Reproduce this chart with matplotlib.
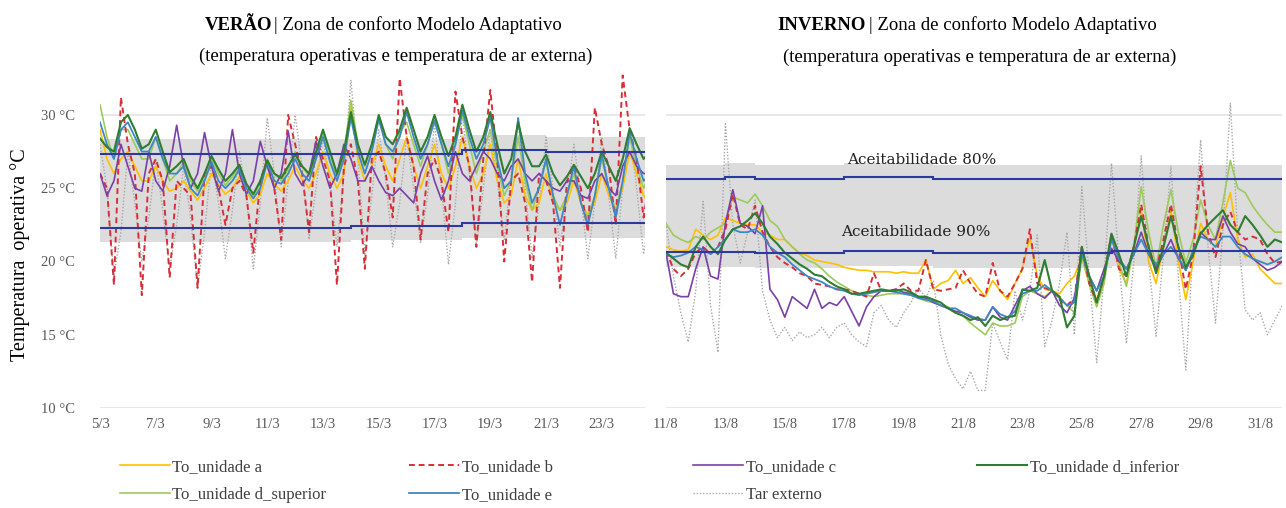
import numpy as np
import matplotlib.pyplot as plt

SERIF = "Liberation Serif"

# ---- dados: valores a cada 6 h (0h, 6h, 12h, 18h), um bloco de 4 por dia ----
verao_ticks = ["5/3", "7/3", "9/3", "11/3", "13/3", "15/3", "17/3", "19/3", "21/3", "23/3"]
inverno_ticks = ["11/8", "13/8", "15/8", "17/8", "19/8", "21/8", "23/8", "25/8", "27/8", "29/8", "31/8"]

verao_a = [
    29.0, 27.0, 26.0, 27.0, 27.5, 26.5, 25.5, 25.5, 26.5, 25.5, 24.8, 25.0, 25.5, 24.8, 24.2, 25.0,
    26.0, 25.2, 24.6, 25.0, 25.8, 24.8, 24.0, 24.6, 26.0, 25.3, 24.8, 25.5, 26.5, 25.6, 25.0, 26.0,
    27.5, 26.0, 25.0, 26.0, 30.8, 27.0, 25.5, 26.5, 28.0, 26.5, 25.5, 27.0, 28.5, 26.5, 25.0, 26.5,
    28.0, 26.0, 25.0, 26.5, 28.5, 26.5, 25.0, 26.0, 28.0, 25.5, 24.0, 24.5, 27.0, 24.5, 23.5, 24.0,
    26.0, 24.0, 23.5, 24.0, 25.5, 24.0, 23.2, 24.0, 26.0, 24.5, 23.5, 25.0, 27.5, 26.0, 24.5, 24.0,
]
verao_b = [
    26.0, 25.0, 18.4, 31.2, 28.0, 26.0, 17.7, 26.0, 27.0, 25.5, 18.9, 25.5, 25.0, 24.5, 18.2, 26.0,
    26.5, 25.0, 22.5, 25.0, 25.5, 24.5, 20.6, 25.5, 27.0, 25.0, 21.5, 30.0, 28.0, 26.0, 22.0, 28.5,
    27.0, 25.5, 18.4, 26.5, 28.0, 25.5, 19.5, 27.0, 27.5, 26.0, 23.0, 32.5, 28.5, 26.5, 21.5, 26.0,
    27.0, 25.5, 22.0, 31.6, 28.5, 26.5, 21.0, 27.0, 31.7, 27.0, 20.0, 25.5, 26.0, 24.0, 18.6, 26.0,
    25.5, 24.0, 18.2, 25.5, 26.5, 25.0, 22.0, 30.5, 28.0, 26.5, 22.5, 32.7, 29.0, 27.0, 23.0, 26.0,
]
verao_c = [
    26.0, 24.5, 25.5, 28.0, 26.5, 25.0, 24.8, 27.5, 25.5, 24.8, 26.5, 29.3, 26.5, 25.0, 26.0, 28.8,
    26.5, 24.8, 26.0, 29.0, 26.0, 24.6, 25.5, 28.2, 26.5, 25.0, 26.0, 28.9, 26.0, 25.2, 26.0, 28.2,
    26.5, 25.0, 26.0, 28.0, 27.0, 25.5, 25.5, 26.5, 25.5, 24.7, 24.5, 25.0, 24.5, 24.0, 26.0, 27.2,
    25.5, 24.2, 25.5, 27.5, 26.0, 25.5, 26.5, 27.5, 27.0, 26.0, 25.5, 26.5, 27.0, 26.0, 25.5, 26.0,
    25.5, 25.0, 24.8, 25.5, 25.5, 24.5, 24.3, 25.5, 26.0, 25.0, 24.5, 26.5, 27.5, 26.5, 26.0, 26.0,
]
verao_d_inf = [
    28.4, 27.8, 27.5, 29.5, 30.0, 29.0, 27.7, 28.0, 29.0, 27.5, 26.1, 26.5, 27.0, 25.8, 25.0, 26.0,
    27.2, 26.3, 25.5, 26.0, 26.6, 25.3, 24.6, 25.5, 26.9, 26.0, 25.7, 26.5, 27.3, 26.5, 26.0, 27.5,
    29.0, 27.5, 26.0, 27.5, 30.2, 28.0, 26.6, 28.0, 30.0, 28.5, 28.0, 29.0, 30.5, 29.0, 27.5, 28.5,
    30.0, 28.5, 27.2, 28.5, 30.7, 29.0, 27.5, 28.5, 30.2, 28.0, 26.0, 27.0, 29.5, 27.5, 26.5, 26.5,
    27.3, 26.0, 25.2, 25.8, 26.6, 25.8, 25.0, 26.0, 27.5, 26.5, 25.5, 27.0, 29.1, 28.0, 27.0, 27.5,
]
verao_d_sup = [
    30.7, 28.5, 27.0, 29.0, 29.0, 28.0, 27.0, 27.0, 28.5, 27.0, 25.5, 26.0, 26.8, 25.5, 24.8, 25.8,
    27.0, 26.0, 25.2, 25.8, 26.5, 25.2, 24.5, 25.3, 27.0, 26.0, 25.5, 26.3, 27.5, 26.5, 25.8, 27.2,
    28.8, 27.0, 25.8, 27.3, 31.0, 28.0, 26.5, 28.0, 29.8, 28.0, 27.0, 28.8, 29.5, 28.0, 26.5, 28.0,
    29.8, 28.0, 26.0, 28.0, 30.0, 28.0, 26.0, 27.5, 29.0, 26.5, 24.5, 25.5, 28.5, 25.5, 23.5, 25.0,
    26.8, 24.5, 23.5, 24.5, 26.0, 24.0, 23.0, 24.5, 27.0, 25.0, 23.5, 25.5, 28.5, 26.5, 25.0, 26.0,
]
verao_e = [
    29.5, 28.0, 27.0, 29.0, 29.5, 28.5, 27.5, 27.5, 28.5, 27.0, 26.0, 26.0, 26.5, 25.0, 24.5, 25.5,
    26.8, 25.5, 25.0, 25.5, 26.3, 25.0, 24.3, 25.0, 26.8, 25.5, 25.3, 26.0, 27.0, 26.0, 25.5, 27.0,
    28.5, 26.8, 25.5, 27.0, 29.8, 27.5, 26.0, 27.5, 29.7, 28.0, 27.5, 28.5, 30.2, 28.5, 27.0, 28.0,
    29.6, 28.0, 26.5, 28.0, 30.3, 28.5, 27.0, 28.0, 29.8, 27.0, 25.0, 25.5, 29.8, 26.0, 24.0, 25.0,
    27.0, 24.5, 22.5, 24.5, 26.5, 24.0, 22.5, 24.5, 27.3, 25.0, 23.0, 25.5, 28.8, 27.0, 25.5, 26.0,
]
verao_tar = [
    28.0, 25.0, 19.0, 22.0, 27.5, 24.0, 20.0, 23.0, 27.0, 23.5, 19.5, 22.5, 26.5, 23.0, 18.2, 22.0,
    27.0, 24.0, 20.2, 23.5, 27.5, 24.5, 19.5, 24.0, 29.8, 26.0, 21.0, 25.5, 30.0, 26.5, 21.5, 25.0,
    28.5, 25.5, 21.0, 26.0, 32.4, 27.0, 20.5, 24.5, 29.0, 25.5, 21.0, 24.0, 28.5, 25.0, 21.3, 24.5,
    29.5, 25.0, 19.8, 24.0, 30.0, 26.0, 21.0, 25.0, 29.0, 25.5, 21.5, 26.0, 29.5, 25.0, 20.2, 24.0,
    28.5, 25.0, 21.0, 24.5, 28.0, 24.5, 20.2, 24.0, 28.5, 24.5, 20.2, 25.0, 29.0, 25.0, 20.5, 23.5,
]
# limites de 90% de aceitabilidade (valor diario)
verao_lim90_sup = [27.35] * 13 + [27.6] * 3 + [27.5] * 4
verao_lim90_inf = [22.3] * 9 + [22.45] * 4 + [22.6] * 7

inverno_a = [
    21.0, 20.8, 20.7, 20.8, 22.2, 21.8, 21.5, 21.8, 23.0, 22.8, 22.6, 22.5, 22.5, 22.0, 21.8, 21.5,
    21.5, 21.0, 20.6, 20.4, 20.1, 20.0, 19.9, 19.8, 19.6, 19.5, 19.4, 19.4, 19.3, 19.3, 19.3, 19.2,
    19.3, 19.2, 19.2, 20.1, 18.1, 18.5, 18.7, 19.4, 18.5, 18.9, 18.2, 17.6, 18.7, 18.0, 17.4, 18.5,
    19.5, 21.7, 19.0, 18.1, 18.0, 17.8, 18.5, 19.0, 20.3, 18.5, 17.4, 19.0, 21.7, 19.5, 18.5, 21.0,
    23.5, 20.0, 18.5, 21.0, 23.5, 20.0, 17.4, 20.0, 22.6, 21.5, 21.0, 23.0, 24.7, 21.5, 20.3, 20.5,
    19.5, 19.0, 18.5, 18.5,
]
inverno_b = [
    20.7, 19.5, 19.0, 19.5, 20.6, 21.0, 20.5, 21.0, 22.2, 24.6, 22.5, 22.2, 23.8, 22.0, 21.0, 20.3,
    19.9, 19.6, 19.2, 19.0, 18.5, 18.4, 18.3, 18.1, 18.1, 18.0, 17.8, 17.6, 19.2, 18.0, 18.0, 18.1,
    18.5, 18.0, 18.0, 20.1, 18.1, 18.0, 18.1, 18.2, 19.4, 18.5, 17.8, 17.6, 19.9, 18.0, 17.6, 18.5,
    19.5, 22.2, 18.5, 18.2, 18.0, 17.4, 17.0, 17.5, 21.0, 18.5, 17.2, 19.0, 21.9, 19.5, 19.0, 21.0,
    23.9, 21.0, 19.4, 21.5, 23.9, 21.0, 18.1, 20.5, 26.5, 22.0, 20.3, 22.5, 23.4, 22.0, 21.5, 21.7,
    21.5, 20.5, 19.9, 20.0,
]
inverno_c = [
    20.6, 17.8, 17.6, 17.6, 19.5, 21.0, 19.0, 18.8, 22.6, 24.9, 22.6, 22.4, 21.9, 23.8, 18.1, 17.4,
    16.2, 17.6, 17.2, 16.8, 18.1, 16.8, 17.2, 17.0, 17.6, 16.6, 15.6, 16.9, 17.6, 18.0, 18.0, 18.1,
    17.9, 17.8, 17.6, 17.5, 17.2, 17.0, 16.8, 16.6, 16.5, 16.2, 16.0, 16.0, 16.9, 16.2, 16.0, 17.0,
    18.0, 18.3, 17.8, 17.5, 18.0, 17.0, 16.5, 17.5, 20.8, 19.0, 18.0, 19.5, 20.9, 20.0, 19.5, 20.5,
    22.0, 20.5, 19.5, 20.5, 21.5, 20.2, 19.4, 20.5, 22.0, 21.5, 21.5, 23.1, 22.0, 21.2, 21.0, 20.2,
    19.8, 19.4, 19.6, 20.0,
]
inverno_d_inf = [
    20.6, 20.2, 19.8, 19.6, 21.0, 21.7, 21.0, 20.5, 21.5, 22.2, 22.4, 22.8, 23.3, 22.6, 21.7, 21.2,
    20.6, 20.2, 19.8, 19.5, 19.1, 19.0, 18.6, 18.3, 18.1, 17.8, 17.8, 17.9, 18.0, 18.1, 18.0, 18.0,
    18.1, 17.9, 17.6, 17.6, 17.4, 17.2, 16.8, 16.5, 16.3, 16.0, 16.2, 15.6, 16.3, 16.0, 16.2, 16.3,
    18.1, 18.0, 18.2, 20.1, 18.0, 17.6, 15.5, 16.3, 21.0, 19.0, 17.2, 19.0, 21.9, 20.5, 19.0, 21.0,
    23.1, 21.0, 19.2, 21.0, 23.1, 21.0, 19.6, 20.5, 21.9, 22.5, 23.0, 23.5, 22.5, 22.0, 23.1, 22.5,
    21.8, 21.0, 21.5, 21.3,
]
inverno_d_sup = [
    22.6, 21.8, 21.5, 21.3, 21.7, 21.5, 22.0, 22.3, 22.6, 24.4, 24.2, 24.0, 24.6, 23.8, 22.8, 22.4,
    21.5, 21.0, 20.5, 20.1, 19.9, 19.5, 19.0, 18.6, 18.3, 18.0, 17.8, 17.7, 17.6, 17.7, 17.8, 17.8,
    17.8, 17.7, 17.5, 17.3, 17.2, 17.0, 16.9, 16.5, 16.3, 15.8, 15.4, 15.0, 15.8, 15.6, 15.6, 15.8,
    17.6, 18.0, 17.8, 17.6, 18.0, 17.6, 17.0, 16.5, 20.3, 18.5, 16.9, 18.5, 21.7, 20.0, 18.3, 21.0,
    25.1, 22.0, 19.6, 22.5, 24.9, 22.0, 19.9, 21.5, 24.2, 22.5, 21.5, 24.0, 26.9, 25.0, 24.7, 23.8,
    23.1, 22.5, 22.0, 22.0,
]
inverno_e = [
    20.5, 20.3, 20.4, 20.6, 21.0, 20.8, 20.5, 21.0, 21.5, 22.2, 22.0, 22.0, 22.2, 21.8, 21.0, 20.6,
    20.3, 19.8, 19.4, 19.0, 18.8, 18.6, 18.3, 18.1, 18.0, 17.8, 17.7, 17.8, 17.9, 18.0, 18.0, 17.9,
    17.8, 17.7, 17.5, 17.4, 17.3, 17.0, 16.8, 16.8, 16.5, 16.3, 16.1, 16.0, 16.9, 16.4, 16.2, 16.6,
    17.8, 18.0, 18.0, 18.4, 18.0, 17.5, 17.0, 17.2, 20.5, 19.0, 18.0, 19.0, 21.5, 20.2, 19.5, 20.5,
    21.5, 20.5, 19.8, 20.5, 21.0, 20.3, 19.4, 20.8, 21.7, 21.5, 21.0, 21.7, 21.7, 21.0, 20.5, 20.2,
    20.0, 19.8, 20.0, 20.3,
]
inverno_tar = [
    22.6, 19.0, 16.5, 14.5, 18.0, 24.1, 17.0, 13.8, 29.4, 22.5, 19.9, 22.0, 24.2, 18.0, 16.0, 14.8,
    15.5, 14.6, 15.2, 14.8, 15.0, 15.5, 14.8, 15.5, 15.8, 15.0, 14.5, 14.2, 16.5, 17.0, 16.0, 15.5,
    16.5, 17.2, 18.2, 17.5, 18.7, 15.0, 13.0, 12.0, 11.3, 12.5, 11.2, 11.2, 15.8, 14.5, 13.3, 18.0,
    16.0, 18.0, 21.8, 14.2, 16.0, 18.5, 22.0, 15.0, 25.1, 19.0, 13.1, 19.0, 26.7, 20.0, 14.4, 20.0,
    27.2, 20.0, 14.9, 20.5, 26.5, 19.0, 12.6, 21.0, 28.3, 21.0, 15.8, 22.0, 30.8, 22.0, 16.7, 16.0,
    16.5, 15.0, 16.0, 17.0,
]
inverno_lim90_sup = [25.6, 25.6, 25.75, 25.6, 25.6, 25.6, 25.75, 25.75, 25.75] + [25.6] * 12
inverno_lim90_inf = [20.65] * 3 + [20.55] * 3 + [20.7] * 3 + [20.55] * 6 + [20.7] * 6

STEP = 0.25  # 6 h em dias

estilos = {
    "To_unidade a": dict(color="#FFC000", lw=1.2, ls="-"),
    "To_unidade b": dict(color="#D62F3A", lw=1.4, ls=(0, (3, 2))),
    "To_unidade c": dict(color="#7A3FA8", lw=1.2, ls="-"),
    "To_unidade d_inferior": dict(color="#2E7D32", lw=1.5, ls="-"),
    "To_unidade d_superior": dict(color="#9CCB5A", lw=1.2, ls="-"),
    "To_unidade e": dict(color="#3F86C4", lw=1.3, ls="-"),
    "Tar externo": dict(color="#A8A8A8", lw=1.0, ls=(0, (1, 1.3))),
}
ordem_desenho = ["Tar externo", "To_unidade a", "To_unidade d_superior", "To_unidade b",
                 "To_unidade c", "To_unidade e", "To_unidade d_inferior"]


def draw_panel(ax, series, lim_sup, lim_inf, ticks, xmax):
    edges = np.arange(len(lim_sup) + 1)
    sup = np.array(lim_sup)
    inf = np.array(lim_inf)
    ax.stairs(sup + 1.0, edges, baseline=inf - 1.0, fill=True, color="#DCDCDC", zorder=0)
    for val in (10, 30):
        ax.axhline(val, color="#E4E4E4", lw=1.2, zorder=0.5)
    for name in ordem_desenho:
        vals = series[name]
        t = np.arange(len(vals)) * STEP
        ax.plot(t, vals, zorder=2, **estilos[name])
    ax.stairs(sup, edges, baseline=None, color="#2B3A9E", lw=1.5, zorder=3)
    ax.stairs(inf, edges, baseline=None, color="#2B3A9E", lw=1.5, zorder=3)
    ax.set_xlim(0, xmax)
    ax.set_ylim(10, 33.07)
    ax.set_xticks(np.arange(len(ticks)) * 2)
    ax.set_xticklabels(ticks, fontfamily=SERIF, fontsize=10.5, color="#595959")
    ax.tick_params(axis="both", length=0, pad=7)
    for s in ax.spines.values():
        s.set_visible(False)


fig = plt.figure(figsize=(12.86, 5.08), dpi=100)
W, H = 1286, 508

ax1 = fig.add_axes([100 / W, 1 - 408 / H, 545 / W, 338 / H])
ax2 = fig.add_axes([666 / W, 1 - 408 / H, 616 / W, 338 / H])

verao = {
    "To_unidade a": verao_a, "To_unidade b": verao_b, "To_unidade c": verao_c,
    "To_unidade d_inferior": verao_d_inf, "To_unidade d_superior": verao_d_sup,
    "To_unidade e": verao_e, "Tar externo": verao_tar,
}
inverno = {
    "To_unidade a": inverno_a, "To_unidade b": inverno_b, "To_unidade c": inverno_c,
    "To_unidade d_inferior": inverno_d_inf, "To_unidade d_superior": inverno_d_sup,
    "To_unidade e": inverno_e, "Tar externo": inverno_tar,
}

draw_panel(ax1, verao, verao_lim90_sup, verao_lim90_inf, verao_ticks, 19.55)
draw_panel(ax2, inverno, inverno_lim90_sup, inverno_lim90_inf, inverno_ticks, 20.74)

ax1.set_yticks([10, 15, 20, 25, 30])
ax1.set_yticklabels(["10 °C", "15 °C", "20 °C", "25 °C", "30 °C"],
                    fontfamily=SERIF, fontsize=10.5, color="#595959")
ax1.tick_params(axis="y", pad=18)
ax2.set_yticks([])

# textos de aceitabilidade
ax2.text(8.6, 26.9, "Aceitabilidade 80%", fontfamily="DejaVu Serif", fontsize=11,
         ha="center", va="center", color="#222222")
ax2.text(8.4, 22.0, "Aceitabilidade 90%", fontfamily="DejaVu Serif", fontsize=11,
         ha="center", va="center", color="#222222")

# titulos
fig.text(272 / W, 1 - 25 / H, "VERÃO", fontfamily=SERIF, fontsize=13.5, fontweight="bold",
         ha="right", va="center")
fig.text(274 / W, 1 - 25 / H, "| Zona de conforto Modelo Adaptativo", fontfamily=SERIF,
         fontsize=13.5, ha="left", va="center")
fig.text(396 / W, 1 - 56 / H, "(temperatura operativas e temperatura de ar externa)",
         fontfamily=SERIF, fontsize=13.5, ha="center", va="center")
fig.text(866 / W, 1 - 25 / H, "INVERNO", fontfamily=SERIF, fontsize=13.5, fontweight="bold",
         ha="right", va="center")
fig.text(869 / W, 1 - 25 / H, "| Zona de conforto Modelo Adaptativo", fontfamily=SERIF,
         fontsize=13.5, ha="left", va="center")
fig.text(980 / W, 1 - 57 / H, "(temperatura operativas e temperatura de ar externa)",
         fontfamily=SERIF, fontsize=13.5, ha="center", va="center")

fig.text(20 / W, 1 - 255 / H, "Temperatura  operativa °C", fontfamily=SERIF, fontsize=14.5,
         rotation=90, ha="center", va="center")

# legenda em 4 colunas
colunas = [["To_unidade a", "To_unidade d_superior"], ["To_unidade b", "To_unidade e"],
           ["To_unidade c", "Tar externo"], ["To_unidade d_inferior"]]
col_x = [120, 409, 693, 977]
for nomes, cx in zip(colunas, col_x):
    handles = [plt.Line2D([], [], **estilos[n]) for n in nomes]
    fig.legend(handles, nomes, loc="upper left", bbox_to_anchor=(cx / W, 1 - 459 / H),
               frameon=False, borderpad=0, borderaxespad=0, handlelength=3.0,
               handletextpad=0.15, labelspacing=0.72,
               prop={"family": SERIF, "size": 12}, labelcolor="#404040")

fig.savefig("out.png", dpi=100)
